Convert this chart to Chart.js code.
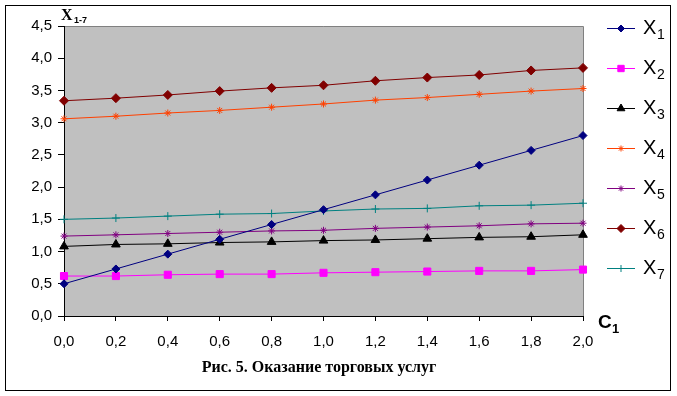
<!DOCTYPE html>
<html>
<head>
<meta charset="utf-8">
<script src="https://cdn.jsdelivr.net/npm/chart.js@4/dist/chart.umd.min.js"></script>
<style>
  html, body { margin: 0; padding: 0; background: #fff; }
  #wrap { width: 677px; height: 396px; position: relative; }
</style>
</head>
<body>
<div id="wrap"><canvas id="chart" width="677" height="396"></canvas></div>
<script>
// C1 values along the x axis
const c1 = [0.0, 0.2, 0.4, 0.6, 0.8, 1.0, 1.2, 1.4, 1.6, 1.8, 2.0];

// series X1..X7
const x1 = [0.50, 0.73, 0.96, 1.19, 1.42, 1.65, 1.88, 2.11, 2.34, 2.57, 2.80];
const x2 = [0.62, 0.62, 0.64, 0.65, 0.65, 0.67, 0.68, 0.69, 0.70, 0.70, 0.72];
const x3 = [1.08, 1.11, 1.12, 1.14, 1.15, 1.17, 1.18, 1.20, 1.22, 1.23, 1.26];
const x4 = [3.06, 3.10, 3.15, 3.19, 3.24, 3.29, 3.35, 3.39, 3.44, 3.49, 3.53];
const x5 = [1.24, 1.26, 1.28, 1.30, 1.32, 1.33, 1.36, 1.38, 1.40, 1.43, 1.44];
const x6 = [3.34, 3.38, 3.43, 3.49, 3.54, 3.58, 3.65, 3.70, 3.74, 3.81, 3.85];
const x7 = [1.50, 1.52, 1.55, 1.58, 1.59, 1.63, 1.66, 1.67, 1.71, 1.72, 1.75];

const seriesNames = ['1', '2', '3', '4', '5', '6', '7'];
const caption = 'Рис. 5. Оказание торговых услуг';

function pts(vals) {
  return vals.map((v, i) => ({ x: c1[i], y: v }));
}

function ds(idx, vals, color, style, r) {
  return {
    label: 'X' + seriesNames[idx],
    data: pts(vals),
    borderColor: color,
    backgroundColor: color,
    borderWidth: 1,
    pointStyle: style,
    pointRadius: r,
    pointHoverRadius: r,
    pointBorderWidth: 1,
    pointBackgroundColor: color,
    pointBorderColor: color,
    tension: 0,
    clip: false
  };
}

const datasets = [
  ds(0, x1, '#000080', 'rectRot', 4),
  ds(1, x2, '#ff00ff', 'rect', 5),
  ds(2, x3, '#000000', 'triangle', 5),
  ds(3, x4, '#ff4000', 'star', 3.5),
  ds(4, x5, '#800080', 'star', 3.5),
  ds(5, x6, '#800000', 'rectRot', 4.5),
  ds(6, x7, '#008080', 'cross', 4)
];

function comma(v) {
  return Number(v).toFixed(1).replace('.', ',');
}

// draws the marker used in the legend
function marker(ctx, style, r, color, x, y) {
  if (Chart.helpers && Chart.helpers.drawPoint) {
    ctx.save();
    ctx.fillStyle = color;
    ctx.strokeStyle = color;
    ctx.lineWidth = 1;
    Chart.helpers.drawPoint(ctx, { pointStyle: style, radius: r, rotation: 0, borderWidth: 1 }, x, y);
    ctx.restore();
  }
}

const frame = {
  id: 'frame',
  beforeDraw(chart) {
    const ctx = chart.ctx;
    const a = chart.chartArea;
    ctx.save();
    ctx.fillStyle = '#fff';
    ctx.fillRect(0, 0, chart.width, chart.height);
    ctx.fillStyle = '#c0c0c0';
    ctx.fillRect(a.left, a.top, a.right - a.left, a.bottom - a.top);
    ctx.strokeStyle = '#808080';
    ctx.lineWidth = 1;
    ctx.beginPath();
    ctx.moveTo(a.left, a.top + 0.5);
    ctx.lineTo(a.right + 0.5, a.top + 0.5);
    ctx.lineTo(a.right + 0.5, a.bottom);
    ctx.stroke();
    ctx.restore();
  },
  afterDraw(chart) {
    const ctx = chart.ctx;
    ctx.save();
    // outer border
    ctx.strokeStyle = '#000';
    ctx.lineWidth = 1;
    ctx.strokeRect(5.5, 5.5, 665, 385);

    // y axis title
    ctx.fillStyle = '#000';
    ctx.textBaseline = 'alphabetic';
    ctx.textAlign = 'left';
    ctx.font = 'bold 16px "Liberation Serif"';
    ctx.fillText('X', 61, 20);
    ctx.font = 'bold 9px "Liberation Sans"';
    ctx.fillText('1-7', 74, 23);

    // x axis title
    ctx.font = 'bold 19px "Liberation Sans"';
    ctx.fillText('C', 598, 328);
    ctx.font = 'bold 13px "Liberation Sans"';
    ctx.fillText('1', 612, 333);

    // caption
    ctx.font = 'bold 16px "Liberation Serif"';
    ctx.textAlign = 'center';
    ctx.textBaseline = 'middle';
    ctx.fillText(caption, 319, 368);

    // legend
    ctx.textAlign = 'left';
    ctx.textBaseline = 'alphabetic';
    chart.data.datasets.forEach((d, i) => {
      const y = 28 + i * 40;
      ctx.strokeStyle = d.borderColor;
      ctx.lineWidth = 1;
      ctx.beginPath();
      ctx.moveTo(607, y + 0.5);
      ctx.lineTo(635, y + 0.5);
      ctx.stroke();
      marker(ctx, d.pointStyle, d.pointRadius - 0.5, d.borderColor, 621, y + 0.5);
      ctx.fillStyle = '#000';
      ctx.font = '20px "Liberation Sans"';
      ctx.fillText('X', 643, y + 6);
      ctx.font = '14px "Liberation Sans"';
      ctx.fillText(seriesNames[i], 657, y + 11);
    });
    ctx.restore();
  }
};

new Chart(document.getElementById('chart'), {
  type: 'line',
  data: { datasets: datasets },
  options: {
    responsive: false,
    animation: false,
    events: [],
    layout: { padding: { left: 0, top: 26, right: 94, bottom: 0 } },
    plugins: { legend: { display: false }, tooltip: { enabled: false } },
    scales: {
      x: {
        type: 'linear',
        min: 0,
        max: 2,
        afterFit(scale) { scale.height = 80; },
        grid: { drawOnChartArea: false, drawTicks: true, tickLength: 5, tickColor: '#000', color: '#000' },
        border: { color: '#000', width: 1 },
        ticks: {
          stepSize: 0.2,
          color: '#000',
          padding: 12,
          maxRotation: 0,
          autoSkip: false,
          font: { family: '"Liberation Sans"', size: 15 },
          callback: (v) => comma(v)
        }
      },
      y: {
        min: 0,
        max: 4.5,
        afterFit(scale) { scale.width = 64; },
        grid: { drawOnChartArea: false, drawTicks: true, tickLength: 6, tickColor: '#000', color: '#000' },
        border: { color: '#000', width: 1 },
        ticks: {
          stepSize: 0.5,
          color: '#000',
          padding: 6,
          font: { family: '"Liberation Sans"', size: 15 },
          callback: (v) => comma(v)
        }
      }
    }
  },
  plugins: [frame]
});
</script>
</body>
</html>
